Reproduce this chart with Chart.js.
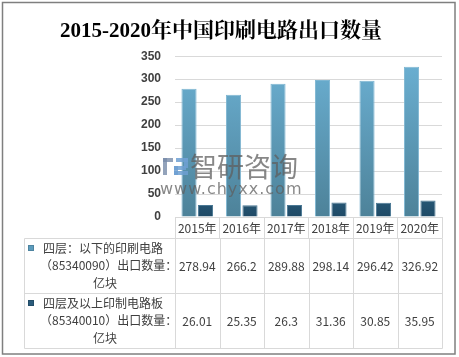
<!DOCTYPE html>
<html><head><meta charset="utf-8">
<script src="https://cdn.jsdelivr.net/npm/chart.js@4"></script>
<style>html,body{margin:0;padding:0;background:#fff;}#wrap{position:relative;width:459px;height:357px;}</style>
</head><body><div id="wrap"><canvas id="c" width="459" height="357"></canvas></div>
<script>
const categories = ['2015年','2016年','2017年','2018年','2019年','2020年'];
const series1Name = ['四层：以下的印刷电路','（85340090）出口数量：','亿块'];
const series1 = [278.94, 266.2, 289.88, 298.14, 296.42, 326.92];
const series2Name = ['四层及以上印制电路板','（85340010）出口数量：','亿块'];
const series2 = [26.01, 25.35, 26.3, 31.36, 30.85, 35.95];
const yTicks = [0,50,100,150,200,250,300,350];
const titleText = '2015-2020年中国印刷电路出口数量';

const CJK = '"Noto Sans CJK SC", "Noto Sans", sans-serif';

function grad1(ctx){
  const ch = ctx.chart, a = ch.chartArea;
  if(!a) return '#5f9fc0';
  const g = ch.ctx.createLinearGradient(0, a.top, 0, a.bottom);
  g.addColorStop(0,'#6cb1d4'); g.addColorStop(1,'#4d8299');
  return g;
}
function grad2(ctx){
  const ch = ctx.chart, a = ch.chartArea;
  if(!a) return '#2c5e7e';
  const g = ch.ctx.createLinearGradient(0, a.bottom-40, 0, a.bottom);
  g.addColorStop(0,'#2f6788'); g.addColorStop(1,'#1f4a66');
  return g;
}

const tablePlugin = {
  id:'tablePlugin',
  afterDraw(chart){
    const ctx = chart.ctx, x = chart.scales.x;
    const left = 24.5, right = 442.5, r0 = 238.5, r1 = 293.5, r2 = 348.5;
    ctx.save();
    ctx.strokeStyle = '#d9d9d9'; ctx.lineWidth = 1;
    ctx.beginPath();
    ctx.moveTo(left, r0); ctx.lineTo(right, r0);
    ctx.moveTo(left, r1); ctx.lineTo(right, r1);
    ctx.moveTo(left, r2); ctx.lineTo(right, r2);
    ctx.moveTo(left, r0); ctx.lineTo(left, r2);
    const half = (x.getPixelForValue(1) - x.getPixelForValue(0))/2;
    for(let i=0;i<=categories.length;i++){
      const px = Math.round(x.getPixelForValue(0) - half + i*2*half) + 0.5;
      ctx.moveTo(px, r0); ctx.lineTo(px, r2);
    }
    ctx.stroke();
    ctx.font = '12px ' + CJK;
    ctx.textBaseline = 'middle';
    const drawName = (lines, y0, color) => {
      ctx.fillStyle = color;
      ctx.fillRect(28, y0 - 3, 6, 6);
      ctx.strokeStyle = 'rgba(0,0,0,0.15)';
      ctx.strokeRect(28.5, y0 - 2.5, 5, 5);
      ctx.fillStyle = '#404040';
      ctx.textAlign = 'left';
      ctx.fillText(lines[0], 43, y0);
      ctx.fillText(lines[1], 40, y0 + 17);
      ctx.textAlign = 'center';
      ctx.fillText(lines[2], 105, y0 + 35);
    };
    drawName(series1Name, 248, '#5c9cbd');
    drawName(series2Name, 303, '#2a5b7b');
    ctx.textAlign = 'center';
    for(let i=0;i<categories.length;i++){
      const cx = x.getPixelForValue(i);
      ctx.fillText(String(series1[i]), cx, 266);
      ctx.fillText(String(series2[i]), cx, 321);
    }
    ctx.strokeStyle = '#7f7f7f'; ctx.lineWidth = 1.5;
    ctx.strokeRect(2.5, 2.5, 452.5, 351.5);
    ctx.restore();
  }
};

const watermarkPlugin = {
  id:'watermark',
  afterDatasetsDraw(chart){
    const ctx = chart.ctx;
    ctx.save();
    ctx.fillStyle = 'rgba(120,140,170,0.8)';
    ctx.fillRect(163, 158, 10, 4);
    ctx.fillRect(163, 158, 4, 17);
    ctx.fillStyle = 'rgba(110,160,210,0.85)';
    ctx.fillRect(176, 158, 12, 4);
    ctx.fillRect(184, 158, 4, 10);
    ctx.fillRect(174, 166, 12, 4);
    ctx.fillRect(174, 166, 4, 9);
    ctx.fillRect(174, 171, 14, 4);
    ctx.fillStyle = 'rgba(95,95,95,0.75)';
    ctx.textBaseline = 'middle';
    ctx.textAlign = 'left';
    ctx.font = '27px ' + CJK;
    ctx.fillText('智研咨询', 190, 167);
    ctx.font = '16px "DejaVu Sans", sans-serif';
    if ('letterSpacing' in ctx) ctx.letterSpacing = '1px';
    ctx.fillText('www.chyxx.com', 160, 190);
    ctx.restore();
  }
};

new Chart(document.getElementById('c'), {
  type:'bar',
  data:{
    labels: categories,
    datasets:[
      {label: series1Name.join(''), data: series1, backgroundColor: grad1, borderColor:'#7fb6d2', borderWidth:{left:1,right:1,top:1,bottom:0}, categoryPercentage:0.74, barPercentage:0.92},
      {label: series2Name.join(''), data: series2, backgroundColor: grad2, borderColor:'#4a7894', borderWidth:{left:1,right:1,top:1,bottom:0}, categoryPercentage:0.74, barPercentage:0.92}
    ]
  },
  options:{
    responsive:false, animation:false,
    layout:{padding:{left:0, right:17, top:0, bottom:119}},
    plugins:{
      legend:{display:false},
      tooltip:{enabled:false},
      title:{display:true, text:titleText, color:'#000',
        font:{family:'"Liberation Serif", "Noto Serif CJK SC", serif', size:21, weight:'bold'},
        padding:{top:19, bottom:12}}
    },
    scales:{
      x:{
        grid:{offset:true, drawOnChartArea:false, drawTicks:true, tickLength:21, color:'#d9d9d9'},
        border:{display:true, color:'#d9d9d9'},
        ticks:{color:'#404040', padding:-17, maxRotation:0, minRotation:0, autoSkip:false, font:{family:CJK, size:12}},
        afterFit(s){ s.height = 21; }
      },
      y:{
        min:0, max:350,
        afterBuildTicks(s){ s.ticks = yTicks.map(v=>({value:v})); },
        grid:{color:'#d9d9d9', drawTicks:false},
        border:{display:false},
        ticks:{color:'#404040', padding:14, font:{family:'"Liberation Sans", Arial, sans-serif', size:12, weight:'bold'}},
        afterFit(s){ s.width = 175; }
      }
    }
  },
  plugins:[watermarkPlugin, tablePlugin]
});
</script></body></html>
